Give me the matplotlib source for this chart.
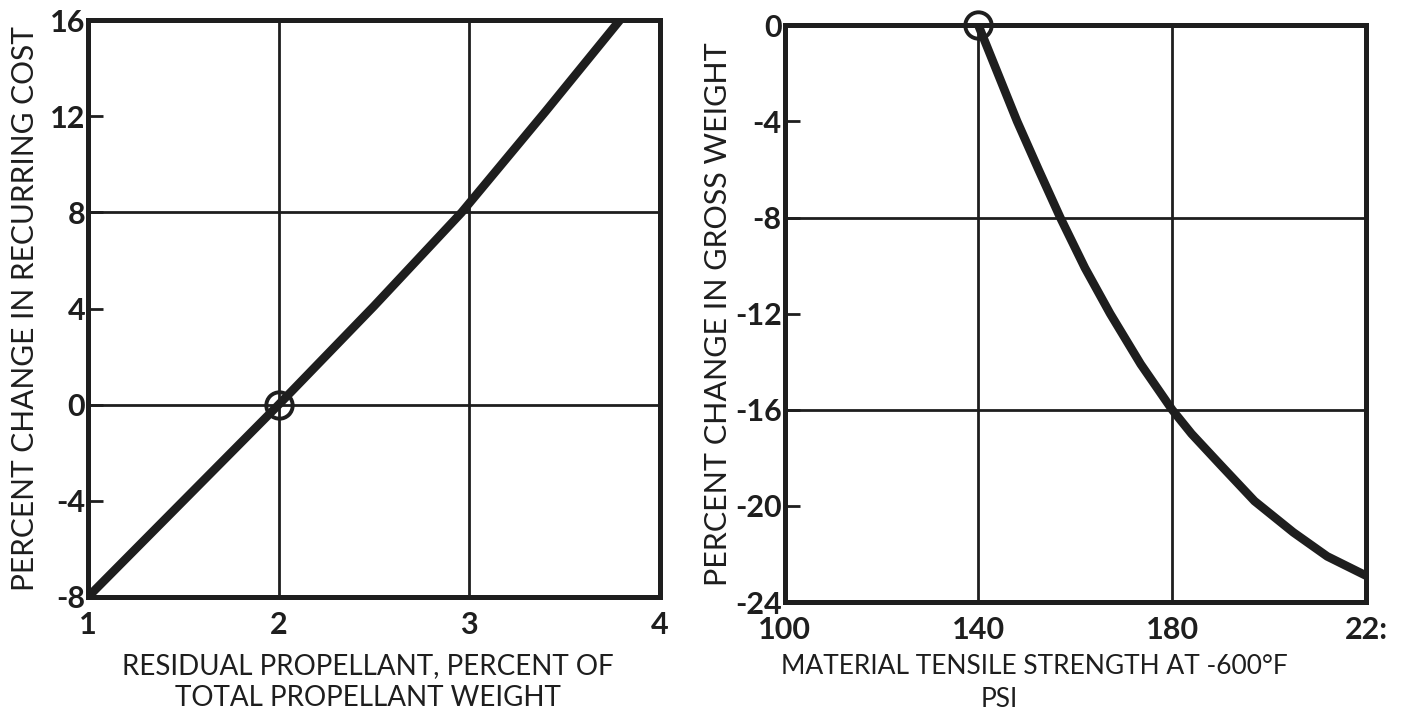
import matplotlib.pyplot as plt
import numpy as np

# ----------------------------------------------------------------------------------------------------------------------
# data
resid_x = [1.0, 1.5, 2.0, 2.5, 2.96, 3.4, 3.79]
resid_cost = [-8.0, -4.0, 0.0, 4.1, 8.0, 12.2, 16.0]
resid_ref = (2.0, 0.0)

tensile_x = [140, 144, 148, 152.4, 156.9, 162, 167.2, 173.5, 180, 184, 190, 197, 205, 212, 220]
tensile_wt = [0.0, -2.0, -4.0, -6.0, -8.0, -10.1, -12.0, -14.1, -16.0, -17.0, -18.3, -19.8, -21.1, -22.1, -22.9]
tensile_ref = (140, 0.0)

left_xticks = [1, 2, 3, 4]
left_yticks = [-8, -4, 0, 4, 8, 12, 16]
right_xticks = [100, 140, 180, 220]
right_xlabels = ["100", "140", "180", "22:"]
right_yticks = [0, -4, -8, -12, -16, -20, -24]

INK = "#1e1e1e"
plt.rcParams['font.family'] = ['Lato', 'DejaVu Sans']
plt.rcParams['font.weight'] = 'bold'
plt.rcParams['axes.unicode_minus'] = False


# ----------------------------------------------------------------------------------------------------------------------
def estilo(ax, xgrid, ygrid):
    for s in ax.spines.values():
        s.set_linewidth(3.6)
        s.set_color(INK)
    for g in xgrid:
        ax.axvline(g, color=INK, lw=2.0, zorder=1)
    for g in ygrid:
        ax.axhline(g, color=INK, lw=2.0, zorder=1)
    ax.tick_params(axis='y', direction='in', length=11, width=2, color=INK,
                   labelsize=22, pad=2, labelcolor=INK)
    ax.tick_params(axis='x', length=0, labelsize=22, pad=10, labelcolor=INK)


fig = plt.figure(figsize=(14.01, 7.21), dpi=100)

# ---------------------------------------------------------------------------------------------------------------------- left
ax1 = fig.add_axes([0.0628, 0.172, 0.4082, 0.800])
ax1.plot(resid_x, resid_cost, color=INK, lw=6.2, solid_capstyle='butt', solid_joinstyle='round', zorder=3)
ax1.plot(*resid_ref, 'o', ms=19, mfc='none', mec=INK, mew=2.8, zorder=4, clip_on=False)
ax1.set_xlim(1, 4)
ax1.set_ylim(-8, 16)
ax1.set_xticks(left_xticks)
ax1.set_yticks(left_yticks)
estilo(ax1, [2, 3], [0, 8])
ax1.set_xlabel("RESIDUAL PROPELLANT, PERCENT OF\nTOTAL PROPELLANT WEIGHT",
               fontsize=20, color=INK, linespacing=1.3)
ax1.xaxis.set_label_coords(0.49, -0.097)
ax1.xaxis.label.set_va('top')
ax1.set_ylabel("PERCENT CHANGE IN RECURRING COST", fontsize=21.5, color=INK, labelpad=8)

# ---------------------------------------------------------------------------------------------------------------------- right
ax2 = fig.add_axes([0.560, 0.165, 0.415, 0.800])
ax2.plot(tensile_x, tensile_wt, color=INK, lw=6.2, solid_capstyle='butt', solid_joinstyle='round', zorder=3)
ax2.plot(*tensile_ref, 'o', ms=19, mfc='none', mec=INK, mew=2.8, zorder=4, clip_on=False)
ax2.set_xlim(100, 220)
ax2.set_ylim(-24, 0)
ax2.set_xticks(right_xticks)
ax2.set_xticklabels(right_xlabels)
ax2.set_yticks(right_yticks)
estilo(ax2, [140, 180], [-8, -16])
ax2.set_xlabel("MATERIAL TENSILE STRENGTH AT -600°F", fontsize=19, color=INK)
ax2.xaxis.set_label_coords(0.43, -0.090)
ax2.xaxis.label.set_va('top')
ax2.text(0.37, -0.148, "PSI", transform=ax2.transAxes, ha='center', va='top',
         fontsize=19, color=INK, fontweight='normal')
ax2.set_ylabel("PERCENT CHANGE IN GROSS WEIGHT", fontsize=22, color=INK, labelpad=2)

fig.savefig("out.png", dpi=100)
